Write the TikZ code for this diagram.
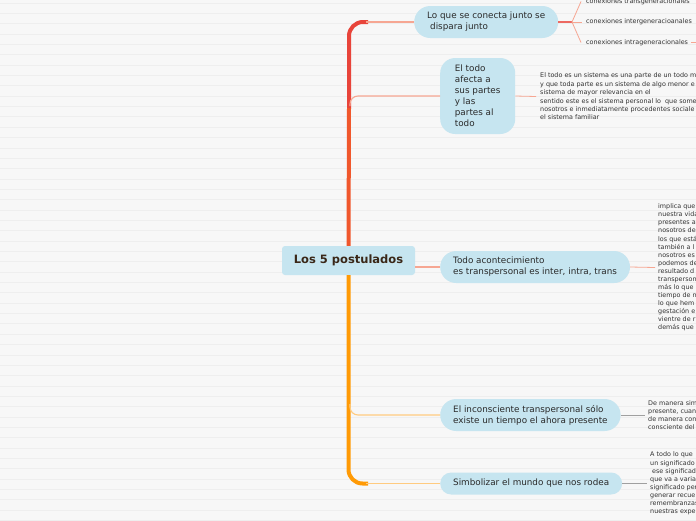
\documentclass[tikz,border=0pt]{standalone}
\usepackage{fontspec}
\setmainfont{DejaVu Sans}
\definecolor{bg}{HTML}{F7F7F7}
\definecolor{stripe}{HTML}{EEEEEE}
\definecolor{topicfill}{HTML}{C6E5F0}
\definecolor{trunkred}{HTML}{E8443A}
\definecolor{trunkmid}{HTML}{F0572C}
\definecolor{trunkorange}{HTML}{FF9A05}
\definecolor{salmon}{HTML}{F6A692}
\definecolor{lightorange}{HTML}{FFCB80}
\definecolor{greyline}{HTML}{A0A0A0}
\definecolor{roottext}{HTML}{3A2718}
\definecolor{detailtext}{HTML}{333333}
\definecolor{topictext}{HTML}{2A2A2A}
\tikzset{
  topic/.style={fill=topicfill, draw=none, text=topictext, align=left,
    inner xsep=13pt, inner ysep=5pt, font=\fontsize{8.8}{11}\selectfont},
  rootbox/.style={fill=topicfill, draw=none, rounded corners=3pt, text=roottext,
    minimum width=133pt, minimum height=29pt, font=\fontsize{11.5}{13}\selectfont\bfseries},
  detail/.style={inner sep=0pt, align=left, text=detailtext, anchor=west},
  trunk/.style={line width=4pt, line cap=round},
  branch/.style={line width=1.1pt},
}
\begin{document}
\begin{tikzpicture}[x=1pt,y=-1pt]
\useasboundingbox (0,0) rectangle (696,520);
\clip (0,0) rectangle (696,520);
\fill[bg] (0,0) rectangle (696,520);
\foreach \i in {0,...,50} \draw[stripe, line width=0.8pt] (0,3+10.35*\i) -- (696,3+10.35*\i);

% root and topics
\node[rootbox] (root) at (348.5,260.5) {Los 5 postulados};
\node[topic, anchor=west, rounded corners=16pt, minimum height=32pt] (n1) at (414,22)
  {Lo que se conecta junto se\\\hspace*{3pt}dispara junto};
\node[topic, anchor=west, rounded corners=15pt, minimum width=75pt, minimum height=76pt] (n2) at (440,96)
  {El todo\\afecta a\\sus partes\\y las\\partes al\\todo};
\node[topic, anchor=west, rounded corners=16pt, minimum height=32pt] (n3) at (440,267)
  {Todo acontecimiento\\es transpersonal es inter, intra, trans};
\node[topic, anchor=west, rounded corners=16pt, minimum height=32pt] (n4) at (440,415)
  {El inconsciente transpersonal sólo\\existe un tiempo el ahora presente};
\node[topic, anchor=west, rounded corners=11pt, minimum height=22pt] (n5) at (440,483.5)
  {Simbolizar el mundo que nos rodea};

% trunk
\coordinate (t1) at (368,22);
\coordinate (t2) at (349,108);
\coordinate (t5) at (368,483.5);
\draw[trunk, trunkred, rounded corners=14pt, line cap=butt] (t2) |- (t1);
\draw[trunk, trunkmid, line cap=butt] (t2) -- (root.north);
\draw[trunk, trunkorange, rounded corners=14pt, line cap=butt] (root.south) |- (t5);

% branches from trunk
\draw[branch, salmon] (366,22) -- (n1.west);
\draw[branch, salmon, rounded corners=8pt] (350,106) |- (n2.west);
\draw[branch, salmon] (n3.west -| root.east) -- (n3.west);
\draw[branch, lightorange, rounded corners=8pt] (350,404) |- (n4.west);
\draw[branch, lightorange] (366,483.5) -- (n5.west);

% node 1 children
\node[detail, font=\fontsize{6.4}{8}\selectfont] (c1) at (586,1.5) {conexiones transgeneracionales};
\node[detail, font=\fontsize{6.4}{8}\selectfont] (c2) at (586,22) {conexiones intergeneracioanales};
\node[detail, font=\fontsize{6.4}{8}\selectfont] (c3) at (586,42.5) {conexiones intrageneracionales};
\coordinate (fan) at (572,22);
\draw[line width=1.6pt, trunkred!80] (n1.east) -- (fan);
\draw[branch, salmon, line width=0.8pt] (fan) -- ([xshift=-5pt]c1.west);
\draw[branch, salmon, line width=0.8pt] (fan) -- ([xshift=-4pt]c2.west);
\draw[branch, salmon, line width=0.8pt] (fan) -- ([xshift=-5pt]c3.west);
\coordinate (c3end) at (700,42.5);
\draw[branch, salmon] ([xshift=3pt]c3.east) -- (c3end);

% node 2 detail
\node[detail, font=\fontsize{6.4}{8.4}\selectfont] (d2) at (540,96.5)
  {El todo es un sistema es una parte de un todo m\\
   y que toda parte es un sistema de algo menor e\\
   sistema de mayor relevancia en el\\
   sentido este es el sistema personal lo\ \ que some\\
   nosotros e inmediatamente procedentes sociale\\
   el sistema familiar};
\draw[branch, salmon, line width=0.8pt] (n2.east) -- ([xshift=-4pt]d2.west);

% node 3 detail
\node[detail, font=\fontsize{6.4}{8.07}\selectfont] (d3) at (658,267.5)
  {implica que\\nuestra vida\\presentes a\\nosotros de\\los que está\\también a l\\nosotros es\\podemos de\\
   resultado d\\transperson\\más lo que\\tiempo de n\\lo que hem\\gestación e\\vientre de r\\demás que};
\draw[branch, salmon, line width=0.8pt] (n3.east) -- ([xshift=-3pt]d3.west);

% node 4 detail
\node[detail, font=\fontsize{6.4}{8.1}\selectfont] (d4) at (648,415)
  {De manera sim\\presente, cuan\\de manera con\\consciente del};
\draw[branch, greyline, line width=0.9pt] (n4.east) -- ([xshift=-3pt]d4.west);

% node 5 detail
\node[detail, font=\fontsize{6.4}{8.1}\selectfont] (d5) at (650,483.5)
  {A todo lo que\\un significado\\\hspace*{2pt}ese significad\\que va a varia\\significado per\\generar recue\\remembranzas\\nuestras expe};
\draw[branch, greyline, line width=0.9pt] (n5.east) -- ([xshift=-3pt]d5.west);
\end{tikzpicture}
\end{document}
